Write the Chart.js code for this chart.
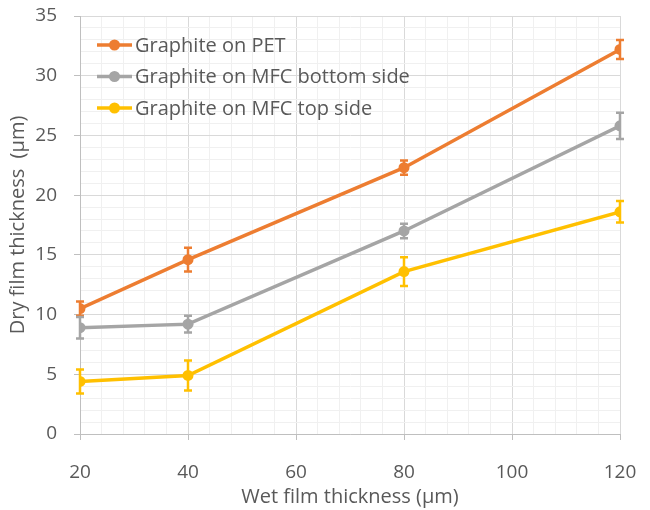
<!DOCTYPE html>
<html>
<head>
<meta charset="utf-8">
<script src="https://cdn.jsdelivr.net/npm/chart.js@4.4.1/dist/chart.umd.min.js"></script>
<style>
  html, body { margin: 0; padding: 0; background: #fff; }
  #wrap { width: 650px; height: 510px; }
</style>
</head>
<body>
<div id="wrap"><canvas id="chart" width="650" height="510"></canvas></div>
<script>
// wet film thickness (x) and dry film thickness per substrate
const wetThickness = [20, 40, 80, 120];
const seriesNames = ["Graphite on PET", "Graphite on MFC bottom side", "Graphite on MFC top side"];
const petValues = [10.5, 14.6, 22.3, 32.2];
const petErrors = [0.6, 1.0, 0.6, 0.8];
const bottomValues = [8.9, 9.2, 17.0, 25.8];
const bottomErrors = [0.9, 0.7, 0.6, 1.1];
const topValues = [4.4, 4.9, 13.6, 18.6];
const topErrors = [1.0, 1.25, 1.2, 0.9];
const xTickLabels = [20, 40, 60, 80, 100, 120];
const yTickLabels = [0, 5, 10, 15, 20, 25, 30, 35];

const colors = ["#ED7D31", "#A5A5A5", "#FFC000"];
const textColor = "#595959";
const fontFamily = "'Open Sans', sans-serif";

function toPoints(vals, errs) {
  return vals.map((v, i) => ({ x: wetThickness[i], y: v, err: errs[i] }));
}

const allValues = [petValues, bottomValues, topValues];
const allErrors = [petErrors, bottomErrors, topErrors];

const datasets = seriesNames.map((name, i) => ({
  label: name,
  data: toPoints(allValues[i], allErrors[i]),
  borderColor: colors[i],
  backgroundColor: colors[i],
  borderWidth: 3.5,
  pointRadius: 5.5,
  pointHoverRadius: 5.5,
  pointBorderWidth: 0,
  tension: 0
}));

// error bars, drawn from the scales
const errorBars = {
  id: "errorBars",
  afterDatasetsDraw(chart) {
    const ctx = chart.ctx;
    const xs = chart.scales.x, ys = chart.scales.y;
    chart.data.datasets.forEach((ds) => {
      ctx.save();
      ctx.strokeStyle = ds.borderColor;
      ctx.lineWidth = 2.5;
      ds.data.forEach((p) => {
        const px = xs.getPixelForValue(p.x);
        const y1 = ys.getPixelForValue(p.y + p.err);
        const y2 = ys.getPixelForValue(p.y - p.err);
        ctx.beginPath();
        ctx.moveTo(px, y1); ctx.lineTo(px, y2);
        ctx.moveTo(px - 4, y1); ctx.lineTo(px + 4, y1);
        ctx.moveTo(px - 4, y2); ctx.lineTo(px + 4, y2);
        ctx.stroke();
      });
      ctx.restore();
    });
  }
};

// legend inside the plot, top-left
const insideLegend = {
  id: "insideLegend",
  afterDraw(chart) {
    const ctx = chart.ctx;
    const area = chart.chartArea;
    ctx.save();
    ctx.font = "20px " + fontFamily;
    ctx.textBaseline = "middle";
    chart.data.datasets.forEach((ds, i) => {
      const y = area.top + 29 + i * 31.5;
      const x0 = area.left + 17;
      ctx.strokeStyle = ds.borderColor;
      ctx.lineWidth = 3.5;
      ctx.beginPath();
      ctx.moveTo(x0, y); ctx.lineTo(x0 + 35, y);
      ctx.stroke();
      ctx.fillStyle = ds.borderColor;
      ctx.beginPath();
      ctx.arc(x0 + 17.5, y, 5.5, 0, Math.PI * 2);
      ctx.fill();
      ctx.fillStyle = textColor;
      ctx.fillText(ds.label, x0 + 38, y + 1);
    });
    ctx.restore();
  }
};

new Chart(document.getElementById("chart"), {
  type: "line",
  data: { datasets: datasets },
  options: {
    responsive: false,
    animation: false,
    layout: { padding: { left: 6, right: 30, top: 16, bottom: 0 } },
    plugins: {
      legend: { display: false },
      tooltip: { enabled: false }
    },
    scales: {
      x: {
        type: "linear",
        min: 20,
        max: 120,
        afterFit: (s) => { s.height = 76; s.paddingLeft = 0; s.paddingRight = 0; },
        border: { color: "#BFBFBF", width: 1 },
        grid: {
          color: (c) => (xTickLabels.includes(c.tick.value) ? "#D9D9D9" : "#F0F0F0"),
          tickColor: (c) => (xTickLabels.includes(c.tick.value) ? "#BFBFBF" : "rgba(0,0,0,0)"),
          tickLength: 6,
          lineWidth: 1
        },
        ticks: {
          stepSize: 4,
          autoSkip: false,
          maxRotation: 0,
          padding: 21,
          color: textColor,
          font: { family: fontFamily, size: 19 },
          callback: (v) => (xTickLabels.includes(v) ? String(v) : "")
        },
        title: {
          display: true,
          text: "Wet film thickness (\u00b5m)",
          color: textColor,
          font: { family: fontFamily, size: 20 },
          padding: { top: 2, bottom: 1 }
        }
      },
      y: {
        min: 0,
        max: 35,
        afterFit: (s) => { s.width = 74; s.paddingTop = 0; s.paddingBottom = 0; },
        border: { color: "#BFBFBF", width: 1 },
        grid: {
          color: (c) => (yTickLabels.includes(c.tick.value) ? "#D9D9D9" : "#F0F0F0"),
          tickColor: (c) => (yTickLabels.includes(c.tick.value) ? "#BFBFBF" : "rgba(0,0,0,0)"),
          tickLength: 6,
          lineWidth: 1
        },
        ticks: {
          stepSize: 1,
          autoSkip: false,
          padding: 17,
          color: textColor,
          font: { family: fontFamily, size: 19 },
          callback: (v) => (yTickLabels.includes(v) ? String(v) : "")
        },
        title: {
          display: true,
          text: "Dry film thickness  (\u00b5m)",
          color: textColor,
          font: { family: fontFamily, size: 20 },
          padding: { top: 0, bottom: 4 }
        }
      }
    }
  },
  plugins: [errorBars, insideLegend]
});
</script>
</body>
</html>
